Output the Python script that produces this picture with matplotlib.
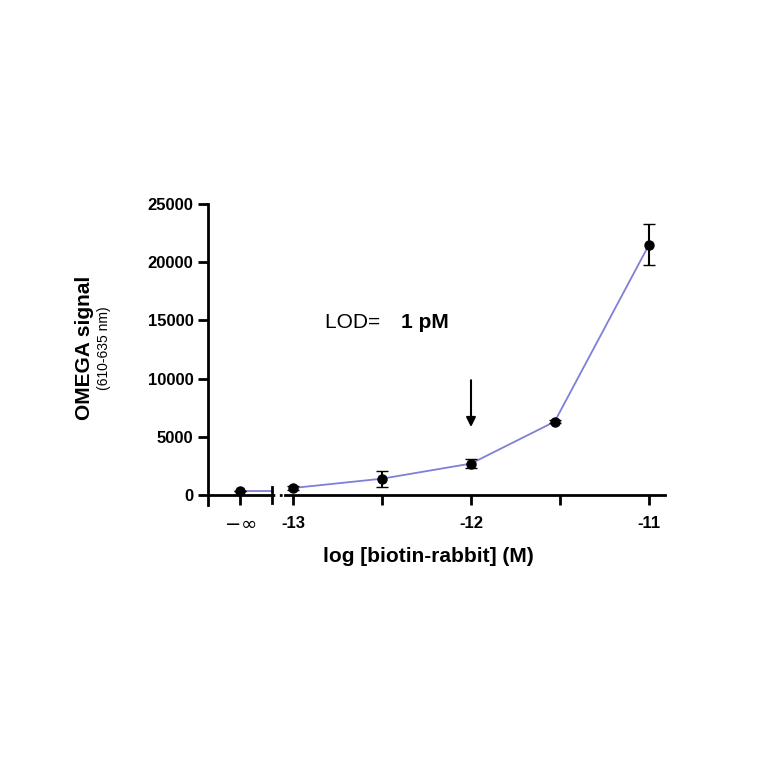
import numpy as np
import matplotlib.pyplot as plt

plt.rcParams['font.family'] = ['Liberation Sans', 'DejaVu Sans']

# data
x_zero = [0]           # "-inf" point on the left segment
y_zero = [350]
err_zero = [0]
log_conc = [-13, -12.5, -12, -11.53, -11]
signal = [600, 1400, 2700, 6300, 21500]
err = [150, 700, 400, 150, 1750]

line_col = '#7f7fd9'
fig = plt.figure(figsize=(7.64, 7.64), dpi=100)
W = 764.
ylo, yhi = -860, 25000
bot = 1 - 505 / W
hgt = (505 - 204) / W

ax1 = fig.add_axes([208 / W, bot, (272 - 208) / W, hgt])
ax2 = fig.add_axes([285 / W, bot, (665 - 285) / W, hgt])

for ax in (ax1, ax2):
    ax.set_ylim(ylo, yhi)
    ax.spines['top'].set_visible(False)
    ax.spines['right'].set_visible(False)
    ax.spines['bottom'].set_position(('data', 0))
    for s in ax.spines.values():
        s.set_linewidth(2)
    ax.tick_params(width=2, length=7, labelsize=12)
    for lab in ax.get_xticklabels() + ax.get_yticklabels():
        lab.set_fontweight('bold')

ax1.set_xlim(-1, 1)
ax1.plot([x_zero[0], 1], [y_zero[0], y_zero[0]], color=line_col, lw=1.3, clip_on=False)
ax1.errorbar(x_zero, y_zero, yerr=err_zero, fmt='o', color='black', ms=6.5, capsize=4)
ax1.set_xticks(x_zero)
ax1.set_xticklabels([r'$-\infty$'], fontsize=14)
ax1.set_yticks([0, 5000, 10000, 15000, 20000, 25000])
ax1.set_yticklabels(['0', '5000', '10000', '15000', '20000', '25000'], fontweight='bold', fontsize=12)
ax1.plot([1, 1], [-700, 700], color='black', lw=2, clip_on=False)
ax1.xaxis.set_tick_params(pad=8)

ax2.set_xlim(-13 - 8 / 178., -11 + 16 / 178.)
ax2.spines['left'].set_visible(False)
ax2.set_yticks([])
ax2.plot(log_conc, signal, color=line_col, lw=1.3)
ax2.errorbar(log_conc, signal, yerr=err, fmt='o', color='black', ms=6.5, capsize=4, elinewidth=1.5)
ax2.set_xticks([-13, -12.5, -12, -11.5, -11])
ax2.set_xticklabels(['-13', '', '-12', '', '-11'], fontweight='bold', fontsize=12)
ax2.xaxis.set_tick_params(pad=8)
ax2.plot([-13.12, -13.045], [0, 0], color='black', lw=2, ls=':', clip_on=False)

ax2.annotate('', xy=(-12, 5600), xytext=(-12, 10100),
             arrowprops=dict(arrowstyle='-|>', color='black', lw=1.5, mutation_scale=14))

fig.text(325 / W, 1 - 323 / W, 'LOD= ', fontsize=15, va='center')
fig.text(401 / W, 1 - 323 / W, '1 pM', fontsize=15, fontweight='bold', va='center')

fig.text(85 / W, 1 - 348 / W, 'OMEGA signal', rotation=90, fontsize=15, fontweight='bold',
         ha='center', va='center')
fig.text(104 / W, 1 - 348 / W, '(610-635 nm)', rotation=90, fontsize=10, ha='center', va='center')
fig.text(428 / W, 1 - 557 / W, 'log [biotin-rabbit] (M)', fontsize=15, fontweight='bold',
         ha='center', va='center')

fig.savefig('out.png', dpi=100)
